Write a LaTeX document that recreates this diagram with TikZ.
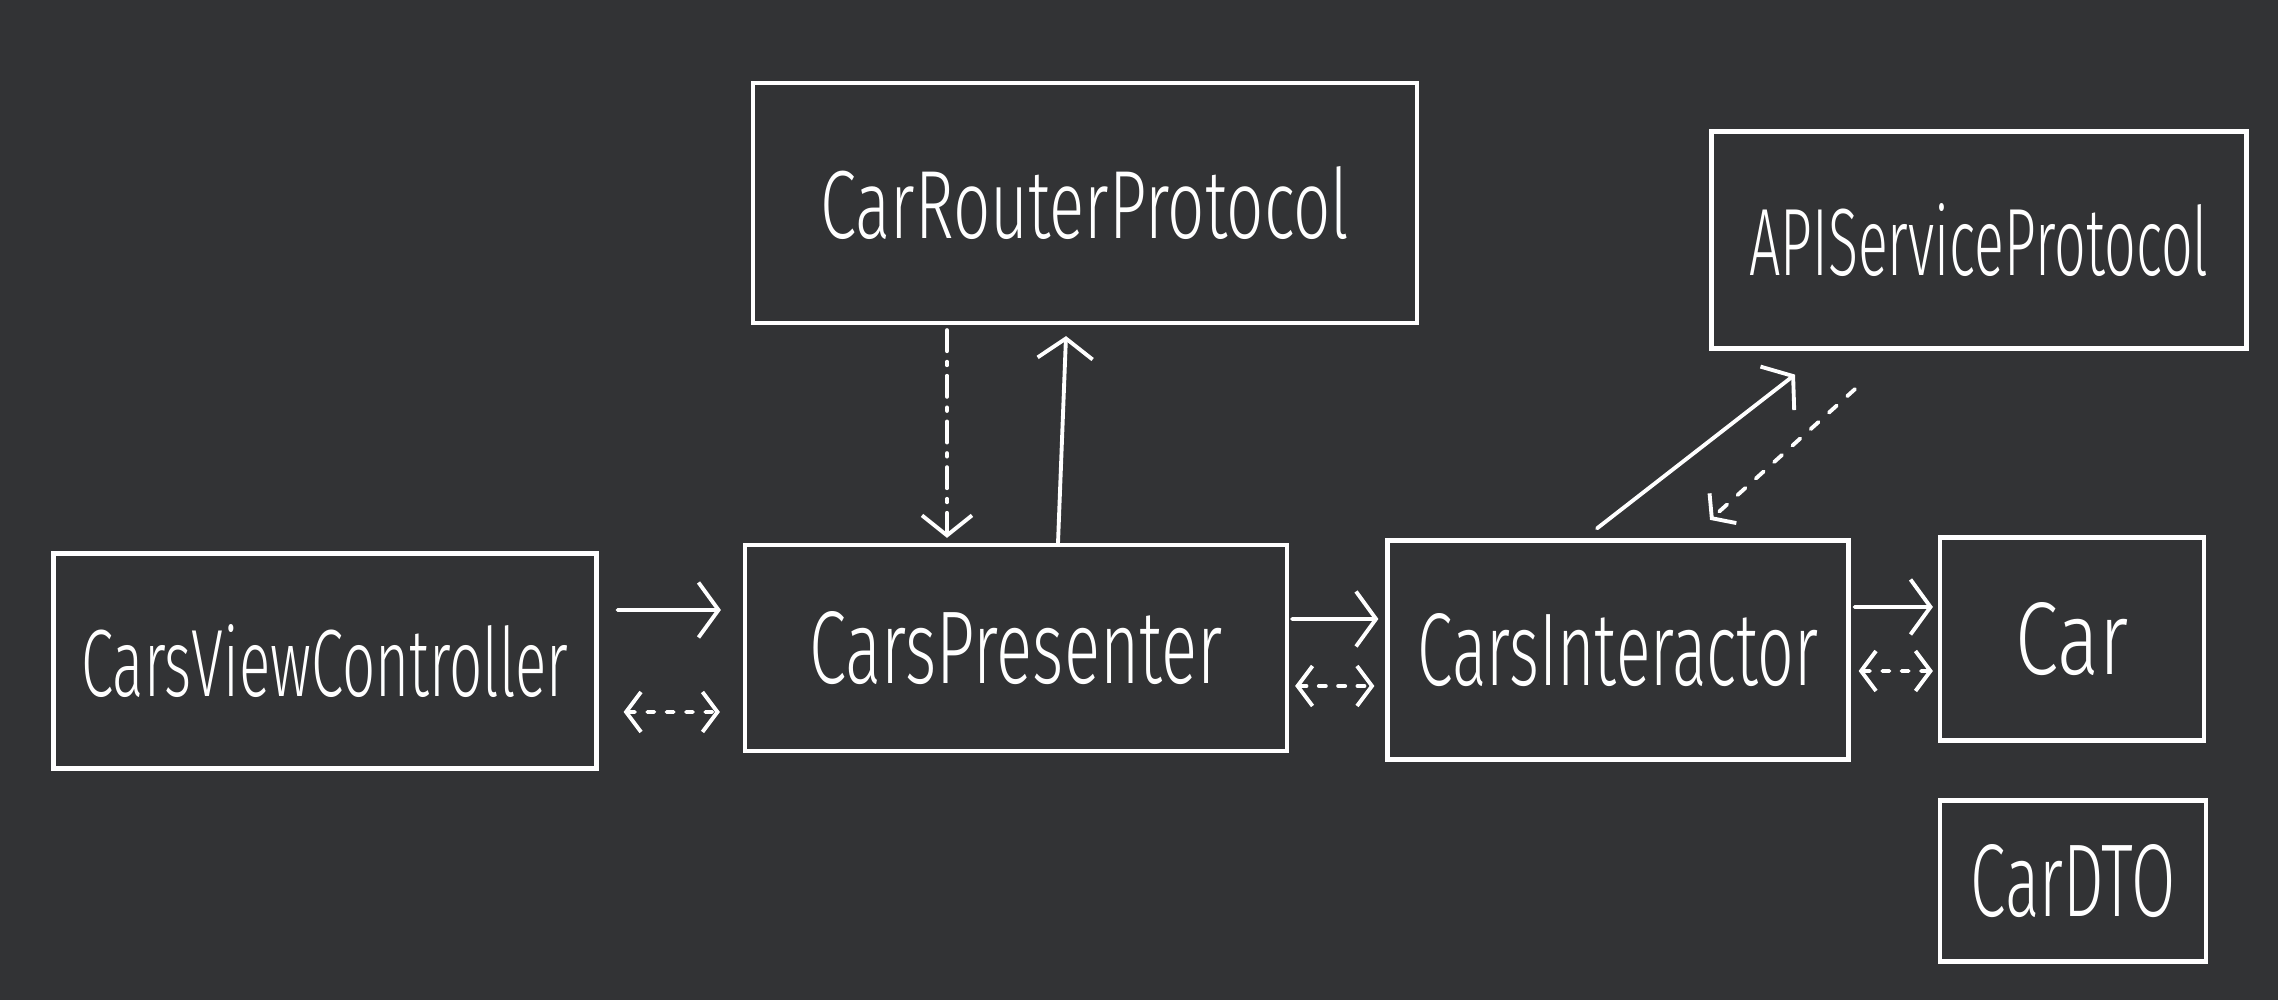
\documentclass[tikz,border=0pt]{standalone}
\usepackage{fontspec}
\setmainfont{Fira Sans}[UprightFont=* Light]
\usetikzlibrary{arrows.meta}

\definecolor{pizarra}{RGB}{50,51,53}
% texto "a mano": ancho fijo, altura fija
\newcommand{\mano}[2]{\resizebox{#1}{0.72cm}{#2}}

\begin{document}
\begin{tikzpicture}[
    caja/.style={draw=white, line width=1.2pt, inner sep=0pt, text=white},
    flecha/.style={white, line width=1.1pt, line cap=round,
        -{Straight Barb[length=0.2cm, width=0.55cm]}},
    doble/.style={white, line width=1.1pt, line cap=round, dash pattern=on 2pt off 3.5pt,
        {Straight Barb[length=0.15cm, width=0.4cm]}-{Straight Barb[length=0.15cm, width=0.4cm]}},
    punteada/.style={white, line width=1.1pt, line cap=round, dash pattern=on 3pt off 4pt,
        -{Straight Barb[length=0.15cm, width=0.4cm]}}
]

% Fondo (fija también los márgenes)
\fill[pizarra] (0,0) rectangle (22.78,10);
\useasboundingbox (0,0) rectangle (22.78,10);

% 1. Cajas
\node[caja, minimum width=6.64cm, minimum height=2.40cm] (router) at (10.85,7.97) {\mano{5.29cm}{CarRouterProtocol}};
\node[caja, minimum width=5.35cm, minimum height=2.17cm] (api) at (19.79,7.60) {\mano{4.59cm}{APIServiceProtocol}};
\node[caja, minimum width=5.43cm, minimum height=2.15cm] (vc) at (3.25,3.39) {\mano{4.87cm}{CarsViewController}};
\node[caja, minimum width=5.42cm, minimum height=2.06cm] (pres) at (10.16,3.52) {\mano{4.13cm}{CarsPresenter}};
\node[caja, minimum width=4.61cm, minimum height=2.19cm] (inter) at (16.18,3.50) {\mano{4.01cm}{CarsInteractor}};
\node[caja, minimum width=2.64cm, minimum height=2.03cm] (car) at (20.72,3.61) {\mano{1.13cm}{Car}};
\node[caja, minimum width=2.66cm, minimum height=1.61cm] (dto) at (20.73,1.19) {\mano{2.05cm}{CarDTO}};

% 2. Flechas horizontales
\draw[flecha] ([shift={(0.19,0.51)}]vc.east) -- ([shift={(-0.22,0.38)}]pres.west);
\draw[doble] ([shift={(0.25,-0.51)}]vc.east) -- ([shift={(-0.23,-0.64)}]pres.west);

\draw[flecha] ([shift={(0.03,0.29)}]pres.east) -- ([shift={(-0.07,0.31)}]inter.west);
\draw[doble] ([shift={(0.06,-0.38)}]pres.east) -- ([shift={(-0.11,-0.36)}]inter.west);

\draw[flecha] ([shift={(0.04,0.43)}]inter.east) -- ([shift={(-0.05,0.32)}]car.west);
\draw[doble] ([shift={(0.08,-0.21)}]inter.east) -- ([shift={(-0.05,-0.32)}]car.west);

% 3. Router <-> Presenter
\draw[white, line width=1.1pt, line cap=round, dash pattern=on 6pt off 3pt on 1pt off 3pt,
    -{Straight Barb[length=0.2cm, width=0.5cm]}]
    ([shift={(-1.38,-0.05)}]router.south) -- ([shift={(-0.69,0.05)}]pres.north);
\draw[flecha] ([shift={(0.42,0)}]pres.north) -- ([shift={(-0.19,-0.11)}]router.south);

% 4. Interactor <-> API
\draw[flecha] ([shift={(-0.21,0.10)}]inter.north) -- ([shift={(-1.84,-0.24)}]api.south);
\draw[punteada] ([shift={(-1.24,-0.385)}]api.south) -- ([shift={(0.92,0.185)}]inter.north);

\end{tikzpicture}
\end{document}
